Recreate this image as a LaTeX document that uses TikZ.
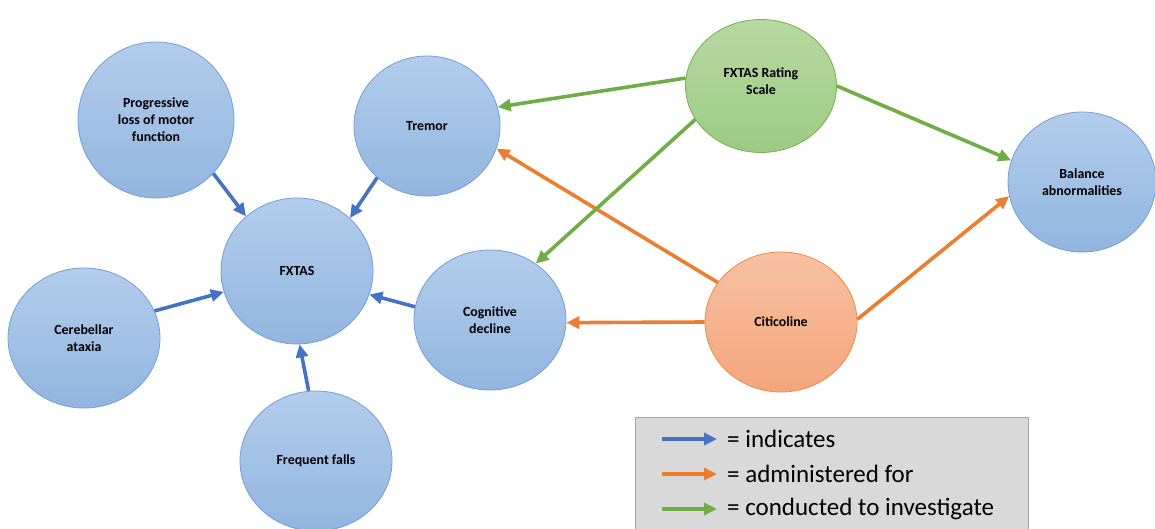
\documentclass[tikz,border=0pt]{standalone}
\usepackage{fontspec}
\setmainfont{Carlito}
\usetikzlibrary{shapes.geometric,arrows.meta}

\definecolor{bluetop}{HTML}{B3CDEB}
\definecolor{bluebot}{HTML}{92B5DF}
\definecolor{blueedge}{HTML}{6F9FD6}
\definecolor{greentop}{HTML}{B7D8A2}
\definecolor{greenbot}{HTML}{9DCB83}
\definecolor{greenedge}{HTML}{76B04F}
\definecolor{orangetop}{HTML}{F7C1A3}
\definecolor{orangebot}{HTML}{F3A57B}
\definecolor{orangeedge}{HTML}{EE8A4A}
\definecolor{arrblue}{HTML}{4472C4}
\definecolor{arrorange}{HTML}{ED7D31}
\definecolor{arrgreen}{HTML}{70AD47}
\definecolor{legendfill}{HTML}{D9D9D9}
\definecolor{legendedge}{HTML}{A6A6A6}

\tikzset{
  bubblefont/.style={font=\fontsize{13.9}{17}\selectfont\bfseries},
  bubble/.style={ellipse, inner sep=0pt, align=center, line width=0.8pt,
    bubblefont, minimum width=152pt, minimum height=140pt},
  bluebub/.style={bubble, draw=blueedge, top color=bluetop, bottom color=bluebot},
  greenbub/.style={bubble, draw=greenedge, top color=greentop, bottom color=greenbot},
  orangebub/.style={bubble, draw=orangeedge, top color=orangetop, bottom color=orangebot},
  link/.style={line width=3.6pt, -{Triangle[length=13pt,width=12pt]}},
  indicates/.style={link, arrblue},
  administered/.style={link, arrorange},
  investigates/.style={link, arrgreen},
  legendtext/.style={anchor=west, inner sep=0pt, font=\fontsize{25}{28}\selectfont}
}

\begin{document}
\begin{tikzpicture}[x=1pt, y=-1pt]
  \useasboundingbox (0,0) rectangle (1155,529);
  \clip (0,0) rectangle (1155,529);

  % legend panel
  \node[draw=legendedge, fill=legendfill, line width=1pt, minimum width=393pt,
        minimum height=125pt, anchor=north west, inner sep=0pt] (legend) at (635,417) {};

  % concept bubbles
  \node[bluebub, minimum width=156pt, minimum height=156pt] (prog) at (156,120)
        {Progressive\\loss of motor\\function};
  \node[bluebub, minimum width=146pt] (tremor) at (427,126) {Tremor};
  \node[bluebub, minimum height=146pt] (fxtas) at (297,271) {FXTAS};
  \node[bluebub] (cereb) at (84,338) {Cerebellar\\ataxia};
  \node[bluebub] (falls) at (316,461) {Frequent falls};
  \node[bluebub] (cog) at (490,320) {Cognitive\\decline};
  \node[greenbub, minimum width=151pt, minimum height=133pt,
        label={[yshift=5pt, align=center, bubblefont]center:FXTAS Rating\\Scale}]
        (scale) at (761,86) {};
  \node[orangebub] (citi) at (781,322) {Citicoline};
  \node[bluebub, minimum width=148pt] (balance) at (1082,182) {Balance\\abnormalities};

  % symptoms indicating FXTAS
  \draw[indicates] (prog.-43) -- (fxtas.133);
  \draw[indicates] (tremor.226) -- (fxtas.45);
  \draw[indicates] (cereb.21) -- (fxtas.196);
  \draw[indicates] (falls.96) -- (fxtas.272);
  \draw[indicates] (cog.170) -- (fxtas.-18);

  % citicoline treatment
  \draw[administered] (citi.180) -- (cog.-2);
  \draw[administered] (citi.148) -- (tremor.-18);
  \draw[administered] (citi.2) -- (balance.191);

  % rating scale assessment
  \draw[investigates] (scale.174) -- (tremor.15);
  \draw[investigates] (scale.207) -- (cog.51);
  \draw[investigates] (scale.0) -- (balance.163);

  % legend entries
  \coordinate (kb0) at (662,439); \coordinate (kb1) at (717,439);
  \coordinate (ko0) at (662,474); \coordinate (ko1) at (717,474);
  \coordinate (kg0) at (662,509); \coordinate (kg1) at (717,509);
  \draw[indicates] (kb0) -- (kb1);
  \draw[administered] (ko0) -- (ko1);
  \draw[investigates] (kg0) -- (kg1);
  \node[legendtext] (lb) at (727,439) {= indicates};
  \node[legendtext] (lo) at (727,474) {= administered for};
  \node[legendtext] (lg) at (727,509) {= conducted to investigate};
\end{tikzpicture}
\end{document}
